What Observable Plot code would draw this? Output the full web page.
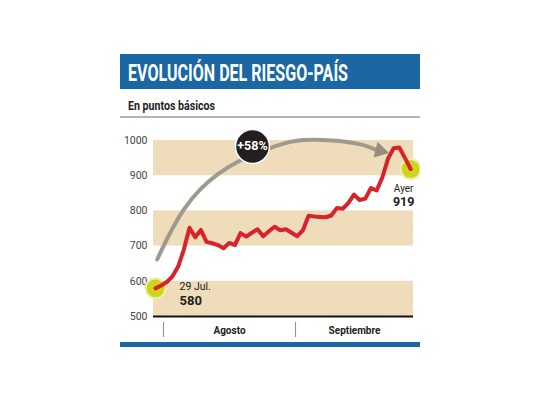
<!DOCTYPE html>
<html><head><meta charset="utf-8">
<script src="https://cdn.jsdelivr.net/npm/d3@7"></script>
<script src="https://cdn.jsdelivr.net/npm/@observablehq/plot@0.6"></script>
<style>
body{margin:0;background:#fff;width:540px;height:405px;position:relative;overflow:hidden;font-family:Roboto,"DejaVu Sans Condensed",sans-serif;}
#wrap{position:absolute;left:120px;top:54px;width:300px;}
#title{background:#1a67a3;height:35px;color:#fff;font-weight:bold;font-size:24px;line-height:38px;padding-left:8px;box-sizing:border-box;white-space:nowrap;overflow:hidden;}
#sub{height:29px;border-bottom:2px solid #b5b5b5;font-weight:bold;font-size:12.5px;color:#222;padding-left:8px;box-sizing:border-box;padding-top:9px;white-space:nowrap;}
.sq{display:inline-block;transform-origin:0 50%;}
#chart svg{display:block;}
#foot{height:5px;background:#1a67a3;}
</style></head>
<body>
<div id="wrap">
  <div id="title"><span class="sq" id="tt">EVOLUCIÓN DEL RIESGO-PAÍS</span></div>
  <div id="sub"><span class="sq" id="st">En puntos básicos</span></div>
  <div id="chart"></div>
  <div id="foot"></div>
</div>
<script>
// Riesgo país (puntos básicos), por rueda desde el 29 de julio
const valores = [580,588,598,614,642,690,752,725,746,712,708,703,694,709,703,737,727,738,748,728,742,755,745,748,738,728,745,786,784,783,782,787,808,806,822,846,831,835,865,858,895,948,978,980,950,919];
const ruedas = valores.map((v, i) => i);
const serie = ruedas.map((i) => ({i, v: valores[i]}));

// Bandas de fondo
const bandas = [[500,600],[700,800],[900,1000]];
const ticksY = [500,600,700,800,900,1000];

// Meses
const meses = ["Agosto","Septiembre"];
const inicioMes = [1.4, 24.7];
const finEje = 45.5;

// Flecha +58%
const arcoX = [0.3, 2.6, 5.0, 7.9, 10.9, 14.7, 20.3, 24.4, 30.3, 36.2, 38.8];
const arcoV = [662, 738, 804, 861, 903, 941, 979, 998, 1001, 989, 974];
const arco = arcoX.map((x, k) => ({x, v: arcoV[k]}));
const puntaFlecha = [{x: 39.6, v: 971}];
const globo = [{x: 17.1, v: 983, t: "+58%"}];

// Extremos
const extremos = [
  {i: 0, v: 580, a: "29 Jul.", b: "580", lado: "ini"},
  {i: 45, v: 919, a: "Ayer", b: "919", lado: "fin"}
];

// Condensar títulos al ancho del original
function condensar(id, ancho) {
  const el = document.getElementById(id);
  const w = el.getBoundingClientRect().width;
  el.style.transform = `scaleX(${ancho / w})`;
}
condensar("tt", 220);
condensar("st", 87);

const font = 'Roboto,"DejaVu Sans Condensed",sans-serif';
const mesesPos = meses.map((m, k) => ({m, x: (inicioMes[k] + (k + 1 < inicioMes.length ? inicioMes[k+1] : finEje)) / 2}));
const ini = extremos.filter(d => d.lado === "ini");
const fin = extremos.filter(d => d.lado === "fin");

const chart = Plot.plot({
  width: 300,
  height: 224,
  marginLeft: 33,
  marginRight: 7,
  marginTop: 22,
  marginBottom: 26,
  style: {fontFamily: font, background: "transparent"},
  x: {domain: [-0.35, finEje], axis: null},
  y: {domain: [500, 1000], axis: null},
  marks: [
    Plot.rectY(bandas, {y1: d => d[0], y2: d => d[1], fill: "#efdcbb"}),
    Plot.axisY(ticksY, {tickSize: 0, tickPadding: 6, fontSize: 10.5, fill: "#444", stroke: null, label: null, tickFormat: d => String(d)}),
    Plot.ruleY([500], {stroke: "#111", strokeWidth: 2}),
    Plot.axisX(inicioMes, {anchor: "bottom", tickSize: 15, dy: 6, stroke: "#8a8a8a", tickFormat: () => "", label: null}),
    Plot.text(mesesPos, {x: "x", y: 500, text: "m", dy: 14, fontSize: 10, fontWeight: "bold", fill: "#222"}),
    Plot.line(arco, {x: "x", y: "v", curve: "catmull-rom", stroke: "#a09a8e", strokeWidth: 4}),
    Plot.dot(puntaFlecha, {x: "x", y: "v", symbol: "triangle", r: 6, fill: "#958e7c", rotate: 104}),
    Plot.dot(globo, {x: "x", y: "v", r: 17, fill: "#231f20", stroke: "#fff", strokeWidth: 1.5}),
    Plot.text(globo, {x: "x", y: "v", text: "t", fill: "#fff", fontSize: 12.5, fontWeight: "bold"}),
    Plot.dot(extremos, {x: "i", y: "v", r: 10, fill: "#cfd51d", stroke: "#eef0b0", strokeWidth: 2}),
    Plot.line(serie, {x: "i", y: "v", stroke: "#d8232a", strokeWidth: 4, strokeLinejoin: "round", strokeLinecap: "round"}),
    Plot.text(ini, {x: "i", y: "v", text: "a", dx: 24, dy: -2, textAnchor: "start", fontSize: 10.5, fill: "#222"}),
    Plot.text(ini, {x: "i", y: "v", text: "b", dx: 24, dy: 12, textAnchor: "start", fontSize: 13, fontWeight: "bold", fill: "#222"}),
    Plot.text(fin, {x: "i", y: "v", text: "a", dx: -7, dy: 20, fontSize: 10, fill: "#222"}),
    Plot.text(fin, {x: "i", y: "v", text: "b", dx: -7, dy: 33, fontSize: 12.5, fontWeight: "bold", fill: "#222"})
  ]
});
document.getElementById("chart").appendChild(chart);
</script>
</body></html>
